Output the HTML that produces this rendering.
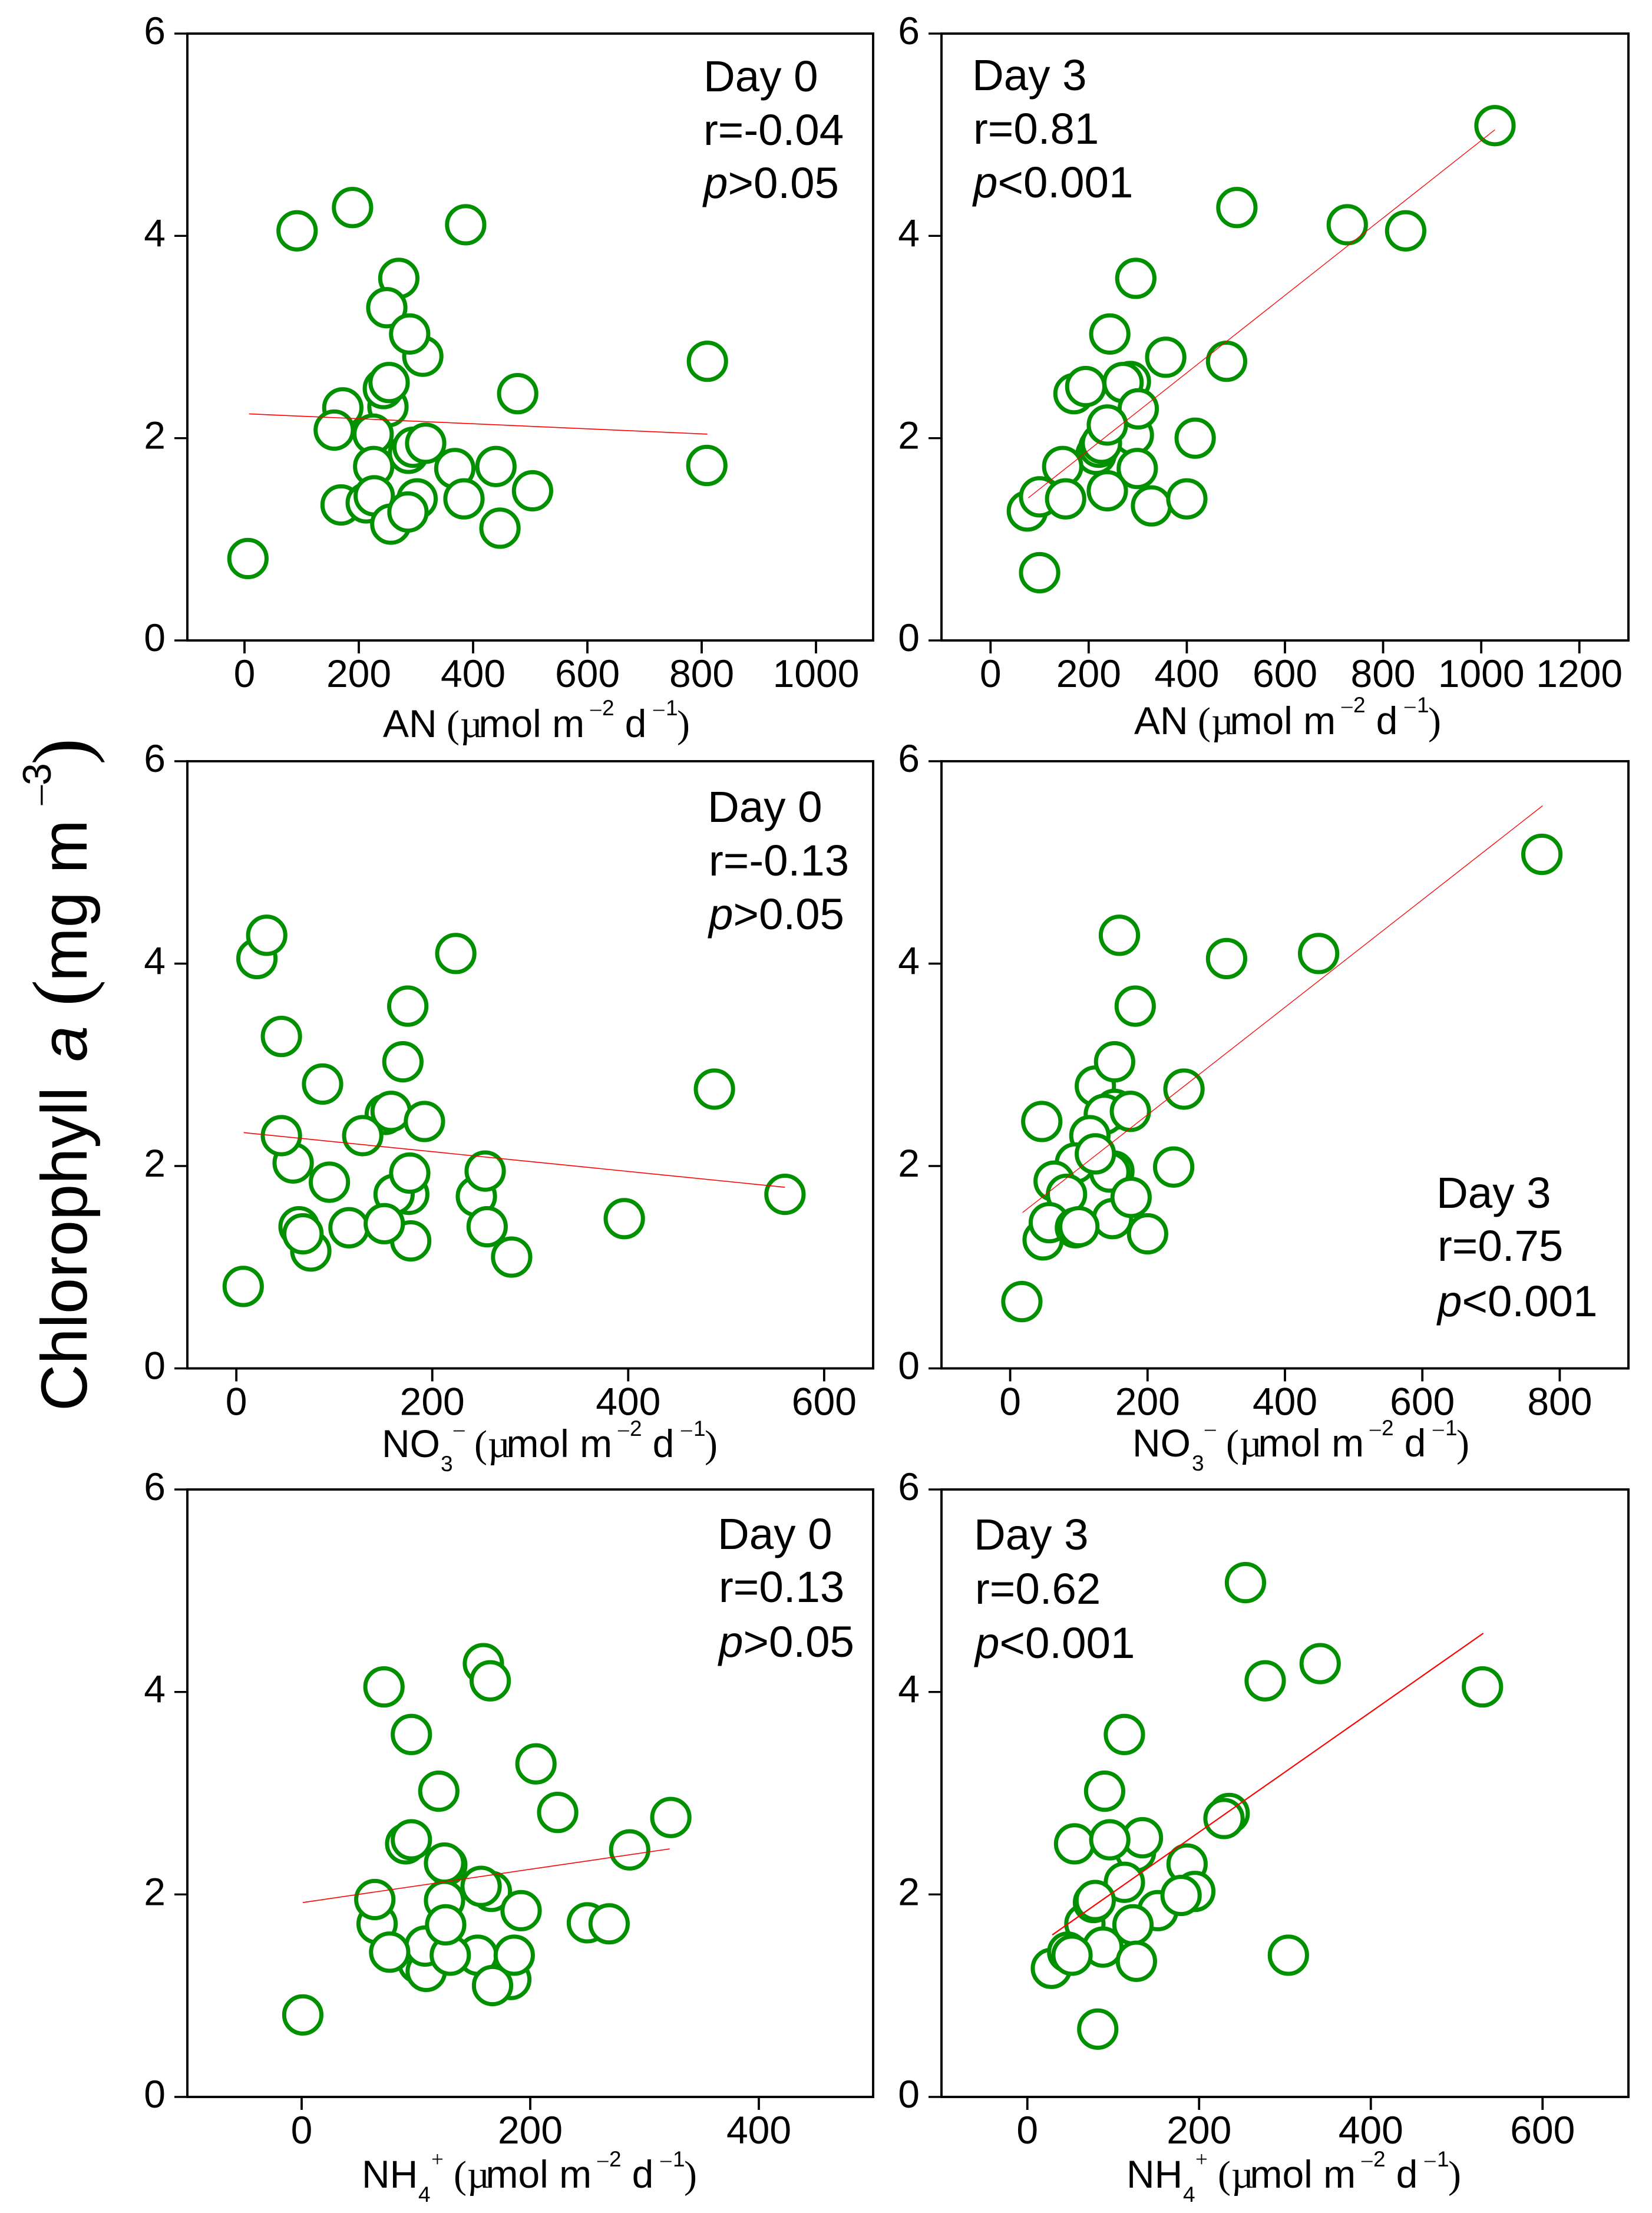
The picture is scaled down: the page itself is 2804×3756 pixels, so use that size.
<!DOCTYPE html>
<html lang="en">
<head>
<meta charset="utf-8">
<title>Chlorophyll a versus nitrogen</title>
<style>
html,body{margin:0;padding:0;background:#fff;}
svg{display:block;}
text{font-family:"Liberation Sans",sans-serif;fill:#000;}
.tick{font-size:66px;}
.title{font-size:66px;}
.ser{font-family:"Liberation Serif",serif;}
.sup{font-size:37px;}
.note{font-size:74.5px;}
.ital{font-style:italic;}
</style>
</head>
<body>
<svg id="chart" xmlns="http://www.w3.org/2000/svg" width="2804" height="3756" viewBox="0 0 2804 3756">
  <rect x="0" y="0" width="2804" height="3756" fill="#fff"/>
  <g id="panels"></g>

  <g>
    <text transform="translate(147,2395) rotate(-90)" font-size="110">Chlorophyll</text>
    <text transform="translate(147,1802) rotate(-90)" font-size="110" class="ital">a</text>
    <text transform="translate(149,1708) rotate(-90)" font-size="136" class="ser">(</text>
    <text transform="translate(147,1666) rotate(-90)" font-size="110">mg m</text>
    <text transform="translate(86,1366) rotate(-90)" font-size="66" class="ser">–</text>
    <text transform="translate(86,1333) rotate(-90)" font-size="68">3</text>
    <text transform="translate(149,1298) rotate(-90)" font-size="136" class="ser">)</text>
  </g>

  <text class="title" y="1251"><tspan x="650">AN</tspan><tspan x="758" class="ser">(</tspan><tspan x="781" class="ser">µ</tspan><tspan x="812.5">mol m</tspan><tspan x="1002" y="1214" class="ser sup">–</tspan><tspan x="1022" y="1214" class="sup">2</tspan><tspan x="1060.6" y="1251">d</tspan><tspan x="1109" y="1214" class="ser sup">–</tspan><tspan x="1130" y="1214" class="sup">1</tspan><tspan x="1149" y="1251" class="ser">)</tspan></text>
  <text class="title" y="1246"><tspan x="1925">AN</tspan><tspan x="2033" class="ser">(</tspan><tspan x="2056" class="ser">µ</tspan><tspan x="2087.5">mol m</tspan><tspan x="2277" y="1209" class="ser sup">–</tspan><tspan x="2297" y="1209" class="sup">2</tspan><tspan x="2335.6" y="1246">d</tspan><tspan x="2384" y="1209" class="ser sup">–</tspan><tspan x="2405" y="1209" class="sup">1</tspan><tspan x="2424" y="1246" class="ser">)</tspan></text>

  <text class="title" y="2473"><tspan x="648">NO</tspan><tspan x="748" y="2497" class="sup">3</tspan><tspan x="770" y="2437" class="ser sup">–</tspan><tspan x="805" y="2473" class="ser">(</tspan><tspan x="828" class="ser">µ</tspan><tspan x="859.5">mol m</tspan><tspan x="1049" y="2437" class="ser sup">–</tspan><tspan x="1069" y="2437" class="sup">2</tspan><tspan x="1107.6" y="2473">d</tspan><tspan x="1156" y="2437" class="ser sup">–</tspan><tspan x="1177" y="2437" class="sup">1</tspan><tspan x="1196" y="2473" class="ser">)</tspan></text>
  <text class="title" y="2472"><tspan x="1922">NO</tspan><tspan x="2023" y="2496" class="sup">3</tspan><tspan x="2045" y="2436" class="ser sup">–</tspan><tspan x="2081" y="2472" class="ser">(</tspan><tspan x="2104" class="ser">µ</tspan><tspan x="2135.5">mol m</tspan><tspan x="2325" y="2436" class="ser sup">–</tspan><tspan x="2345" y="2436" class="sup">2</tspan><tspan x="2383.6" y="2472">d</tspan><tspan x="2432" y="2436" class="ser sup">–</tspan><tspan x="2453" y="2436" class="sup">1</tspan><tspan x="2472" y="2472" class="ser">)</tspan></text>

  <text class="title" y="3713"><tspan x="614">NH</tspan><tspan x="710" y="3737" class="sup">4</tspan><tspan x="732" y="3677" class="ser sup">+</tspan><tspan x="770" y="3713" class="ser">(</tspan><tspan x="793" class="ser">µ</tspan><tspan x="824.5">mol m</tspan><tspan x="1014" y="3677" class="ser sup">–</tspan><tspan x="1034" y="3677" class="sup">2</tspan><tspan x="1072.6" y="3713">d</tspan><tspan x="1121" y="3677" class="ser sup">–</tspan><tspan x="1142" y="3677" class="sup">1</tspan><tspan x="1161" y="3713" class="ser">)</tspan></text>
  <text class="title" y="3713"><tspan x="1912">NH</tspan><tspan x="2008" y="3737" class="sup">4</tspan><tspan x="2029" y="3677" class="ser sup">+</tspan><tspan x="2067" y="3713" class="ser">(</tspan><tspan x="2090" class="ser">µ</tspan><tspan x="2121.5">mol m</tspan><tspan x="2311" y="3677" class="ser sup">–</tspan><tspan x="2331" y="3677" class="sup">2</tspan><tspan x="2369.6" y="3713">d</tspan><tspan x="2418" y="3677" class="ser sup">–</tspan><tspan x="2439" y="3677" class="sup">1</tspan><tspan x="2458" y="3713" class="ser">)</tspan></text>

  <g>
    <text class="note" x="1194" y="155">Day 0</text>
    <text class="note" x="1194" y="246">r=-0.04</text>
    <text class="note" x="1194" y="336"><tspan class="ital">p</tspan>&gt;0.05</text>
  </g>
  <g>
    <text class="note" x="1650" y="153">Day 3</text>
    <text class="note" x="1652" y="244">r=0.81</text>
    <text class="note" x="1652" y="335"><tspan class="ital">p</tspan>&lt;0.001</text>
  </g>
  <g>
    <text class="note" x="1201" y="1395">Day 0</text>
    <text class="note" x="1203" y="1486">r=-0.13</text>
    <text class="note" x="1203" y="1577"><tspan class="ital">p</tspan>&gt;0.05</text>
  </g>
  <g>
    <text class="note" x="2438" y="2050">Day 3</text>
    <text class="note" x="2440" y="2140">r=0.75</text>
    <text class="note" x="2440" y="2234"><tspan class="ital">p</tspan>&lt;0.001</text>
  </g>
  <g>
    <text class="note" x="1218" y="2629">Day 0</text>
    <text class="note" x="1220" y="2719">r=0.13</text>
    <text class="note" x="1220" y="2812"><tspan class="ital">p</tspan>&gt;0.05</text>
  </g>
  <g>
    <text class="note" x="1653" y="2630">Day 3</text>
    <text class="note" x="1655" y="2722">r=0.62</text>
    <text class="note" x="1655" y="2814"><tspan class="ital">p</tspan>&lt;0.001</text>
  </g>
</svg>

<script>
// Shared y axis
const yTicks = [0, 2, 4, 6];

// Panel: AN, day 0
const anDay0Ticks = [0, 200, 400, 600, 800, 1000];
const anDay0X = [92,189,387,270,249,312,289,172,251,243,253,225,157,810,478,809,287,295,317,226,368,440,504,384,302,447,169,213,227,256,286,6];
const anDay0Y = [4.05,4.28,4.11,3.58,3.29,2.81,3.03,2.30,2.31,2.49,2.55,2.04,2.08,2.76,2.44,1.73,1.85,1.91,1.95,1.72,1.70,1.72,1.48,1.40,1.40,1.11,1.34,1.36,1.43,1.15,1.27,0.81];
const anDay0FitX = [8, 810];
const anDay0FitY = [2.24, 2.04];

// Panel: AN, day 3
const anDay3Ticks = [0, 200, 400, 600, 800, 1000, 1200];
const anDay3X = [502,727,846,1028,296,243,357,481,170,194,285,270,291,301,417,215,221,226,238,147,299,75,100,153,238,328,400,100];
const anDay3Y = [4.28,4.11,4.05,5.09,3.58,3.03,2.80,2.76,2.44,2.51,2.56,2.55,2.03,2.29,2.00,1.84,1.91,1.95,2.13,1.72,1.70,1.28,1.42,1.40,1.48,1.33,1.40,0.67];
const anDay3FitX = [77, 1028];
const anDay3FitY = [1.41, 5.05];

// Panel: NO3, day 0
const no3Day0Ticks = [0, 200, 400, 600];
const no3Day0X = [21,31,224,175,46,170,88,488,152,158,192,129,58,46,95,176,161,177,245,254,560,396,256,281,178,64,76,68,115,151,7];
const no3Day0Y = [4.05,4.28,4.10,3.58,3.28,3.03,2.81,2.76,2.51,2.54,2.44,2.30,2.03,2.30,1.84,1.72,1.72,1.93,1.70,1.95,1.72,1.48,1.40,1.10,1.26,1.40,1.16,1.33,1.39,1.43,0.81];
const no3Day0FitX = [7.5, 560];
const no3Day0FitY = [2.33, 1.79];

// Panel: NO3, day 3
const no3Day3Ticks = [0, 200, 400, 600, 800];
const no3Day3X = [159,315,449,774,182,124,152,253,46,152,137,175,116,95,151,145,124,238,64,82,149,176,48,57,95,100,200,17];
const no3Day3Y = [4.28,4.05,4.10,5.08,3.58,2.79,3.03,2.76,2.44,2.56,2.51,2.54,2.30,2.03,1.95,1.94,2.12,1.99,1.85,1.72,1.48,1.69,1.27,1.44,1.39,1.40,1.33,0.66];
const no3Day3FitX = [18, 775];
const no3Day3FitY = [1.54, 5.56];

// Panel: NH4, day 0
const nh4Day0Ticks = [0, 200, 400];
const nh4Day0X = [72,159,165,96,205,120,224,323,91,96,287,127,125,166,157,66,64,125,192,250,269,102,109,108,154,77,130,126,183,186,167,1];
const nh4Day0Y = [4.05,4.28,4.11,3.58,3.29,3.02,2.81,2.76,2.50,2.54,2.44,2.29,2.31,2.03,2.08,1.71,1.95,1.94,1.84,1.72,1.71,1.32,1.24,1.49,1.40,1.43,1.40,1.70,1.16,1.40,1.10,0.81];
const nh4Day0FitX = [1, 322];
const nh4Day0FitY = [1.92, 2.45];

// Panel: NH4, day 3
const nh4Day3Ticks = [0, 200, 400, 600];
const nh4Day3X = [254,341,277,530,113,90,235,229,55,126,134,96,186,195,152,179,113,67,77,79,88,123,28,47,52,127,304,82];
const nh4Day3Y = [5.08,4.28,4.11,4.05,3.58,3.02,2.80,2.75,2.50,2.42,2.56,2.54,2.30,2.03,1.84,1.99,2.12,1.71,1.92,1.94,1.48,1.70,1.27,1.43,1.40,1.34,1.40,0.67];
const nh4Day3FitX = [29, 531];
const nh4Day3FitY = [1.60, 4.58];

const NS = 'http://www.w3.org/2000/svg';
const root = document.getElementById('panels');

function make(tag, attrs, parent) {
  const el = document.createElementNS(NS, tag);
  for (const k in attrs) el.setAttribute(k, attrs[k]);
  parent.appendChild(el);
  return el;
}

function drawPanel(p) {
  const g = make('g', {}, root);
  
  

  const sx = v => p.left + (v - p.xMin) / (p.xMax - p.xMin) * (p.right - p.left);
  const sy = v => p.bottom - v / 6 * (p.bottom - p.top);

  const frame = make('rect', {x: p.left, y: p.top, width: p.right - p.left, height: p.bottom - p.top, fill: 'none', stroke: '#000', 'stroke-width': 3.9}, g);
  
  

  yTicks.forEach(v => {
    const t = make('line', {x1: p.left - 22, x2: p.left, y1: sy(v), y2: sy(v), stroke: '#000', 'stroke-width': 3.4}, g);
    
    
    const l = make('text', {class: 'tick', x: p.left - 37, y: sy(v) + 18, 'text-anchor': 'end'}, g);
    
    
    l.textContent = v;
  });

  p.ticks.forEach(v => {
    const t = make('line', {x1: sx(v), x2: sx(v), y1: p.bottom, y2: p.bottom + 22, stroke: '#000', 'stroke-width': 3.8}, g);
    
    
    const l = make('text', {class: 'tick', x: sx(v), y: p.bottom + 79, 'text-anchor': 'middle'}, g);
    
    
    l.textContent = v;
  });

  p.xs.forEach((v, i) => {
    const c = make('circle', {cx: sx(v), cy: sy(p.ys[i]), r: 31.6, fill: '#fff', stroke: '#009000', 'stroke-width': 7}, g);
    
    
  });

  const fit = make('line', {x1: sx(p.fitX[0]), y1: sy(p.fitY[0]), x2: sx(p.fitX[1]), y2: sy(p.fitY[1]), stroke: '#ff0000', 'stroke-width': p.fitW}, g);
  
  
}

drawPanel({key: 'an-day0', left: 318, right: 1482, top: 57, bottom: 1087, xMin: -100, xMax: 1100, ticks: anDay0Ticks, xs: anDay0X, ys: anDay0Y, fitX: anDay0FitX, fitY: anDay0FitY, fitW: 1.6});
drawPanel({key: 'an-day3', left: 1598, right: 2764, top: 57, bottom: 1087, xMin: -100, xMax: 1300, ticks: anDay3Ticks, xs: anDay3X, ys: anDay3Y, fitX: anDay3FitX, fitY: anDay3FitY, fitW: 1.3});
drawPanel({key: 'no3-day0', left: 318, right: 1482, top: 1292, bottom: 2322.5, xMin: -50, xMax: 650, ticks: no3Day0Ticks, xs: no3Day0X, ys: no3Day0Y, fitX: no3Day0FitX, fitY: no3Day0FitY, fitW: 1.6});
drawPanel({key: 'no3-day3', left: 1598, right: 2764, top: 1292, bottom: 2322.5, xMin: -100, xMax: 900, ticks: no3Day3Ticks, xs: no3Day3X, ys: no3Day3Y, fitX: no3Day3FitX, fitY: no3Day3FitY, fitW: 1.3});
drawPanel({key: 'nh4-day0', left: 318, right: 1482, top: 2528, bottom: 3559, xMin: -100, xMax: 500, ticks: nh4Day0Ticks, xs: nh4Day0X, ys: nh4Day0Y, fitX: nh4Day0FitX, fitY: nh4Day0FitY, fitW: 1.6});
drawPanel({key: 'nh4-day3', left: 1598, right: 2764, top: 2528, bottom: 3559, xMin: -100, xMax: 700, ticks: nh4Day3Ticks, xs: nh4Day3X, ys: nh4Day3Y, fitX: nh4Day3FitX, fitY: nh4Day3FitY, fitW: 2.2});
</script>
</body>
</html>
